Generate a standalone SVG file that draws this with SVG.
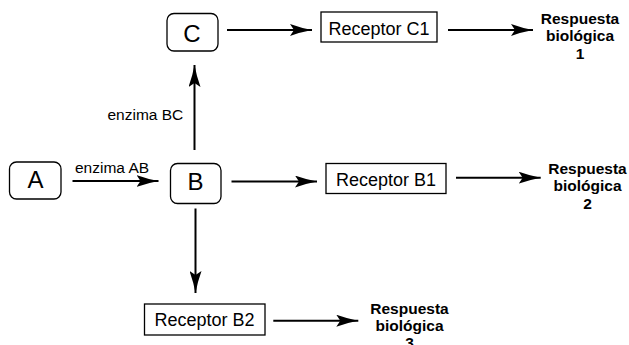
<svg xmlns="http://www.w3.org/2000/svg" width="629" height="345" viewBox="0 0 629 345">
<style>
  .node { fill: #fff; stroke: #000; stroke-width: 1.3; }
  .big { font-family: "Liberation Sans", Arial, sans-serif; font-size: 24px; text-anchor: middle; fill: #000; }
  .rec { font-family: "Liberation Sans", Arial, sans-serif; font-size: 18px; text-anchor: middle; fill: #000; }
  .lbl { font-family: "Liberation Sans", Arial, sans-serif; font-size: 15.5px; fill: #000; }
  .resp { font-family: "Liberation Sans", Arial, sans-serif; font-size: 15.5px; font-weight: bold; text-anchor: middle; fill: #000; }
  .conn { stroke: #000; stroke-width: 2; fill: none; marker-end: url(#arr); }
</style>
<defs>
  <marker id="arr" markerUnits="userSpaceOnUse" markerWidth="22" markerHeight="12" viewBox="0 0 22 12" refX="22" refY="6" orient="auto">
    <path d="M0,0 Q11,4 22,6 Q11,8 0,12 L4,6 Z" fill="#000"/>
  </marker>
</defs>
<g id="connectors">
  <line class="conn" x1="72.5" y1="181" x2="158.5" y2="181"/>
  <line class="conn" x1="194.5" y1="150" x2="194.5" y2="65"/>
  <line class="conn" x1="195.5" y1="208.5" x2="195.5" y2="293"/>
  <line class="conn" x1="231.5" y1="181.5" x2="317" y2="181.5"/>
  <line class="conn" x1="227" y1="30" x2="312" y2="30"/>
  <line class="conn" x1="448" y1="30" x2="533" y2="30"/>
  <line class="conn" x1="456" y1="177.7" x2="540.7" y2="177.7"/>
  <line class="conn" x1="273.3" y1="320.7" x2="358.3" y2="320.7"/>
  <text class="lbl" x="75" y="173">enzima AB</text>
  <text class="lbl" x="107.5" y="119.5">enzima BC</text>
</g>
<g id="node-A">
  <rect class="node" x="9.5" y="162" width="51.5" height="37" rx="7"/>
  <text class="big" x="35.5" y="187.5">A</text>
</g>
<g id="node-B">
  <rect class="node" x="170.5" y="163.5" width="50.5" height="40" rx="7"/>
  <text class="big" x="195.5" y="190">B</text>
</g>
<g id="node-C">
  <rect class="node" x="167" y="13.5" width="51" height="37.5" rx="7"/>
  <text class="big" x="192" y="42">C</text>
</g>
<g id="receptor-C1">
  <rect class="node" x="321" y="12" width="116" height="30"/>
  <text class="rec" x="379" y="34.5">Receptor C1</text>
</g>
<g id="receptor-B1">
  <rect class="node" x="326" y="163.5" width="120" height="30"/>
  <text class="rec" x="386" y="185.5">Receptor B1</text>
</g>
<g id="receptor-B2">
  <rect class="node" x="144.5" y="304" width="120.5" height="31"/>
  <text class="rec" x="204.5" y="326">Receptor B2</text>
</g>
<g id="respuesta-1">
  <text class="resp" x="580" y="24">Respuesta</text>
  <text class="resp" x="580" y="40.5">biológica</text>
  <text class="resp" x="580" y="59">1</text>
</g>
<g id="respuesta-2">
  <text class="resp" x="587.5" y="174">Respuesta</text>
  <text class="resp" x="587.5" y="190.5">biológica</text>
  <text class="resp" x="587.5" y="209">2</text>
</g>
<g id="respuesta-3">
  <text class="resp" x="409.5" y="314">Respuesta</text>
  <text class="resp" x="409.5" y="330.5">biológica</text>
  <text class="resp" x="409.5" y="348">3</text>
</g>
</svg>
